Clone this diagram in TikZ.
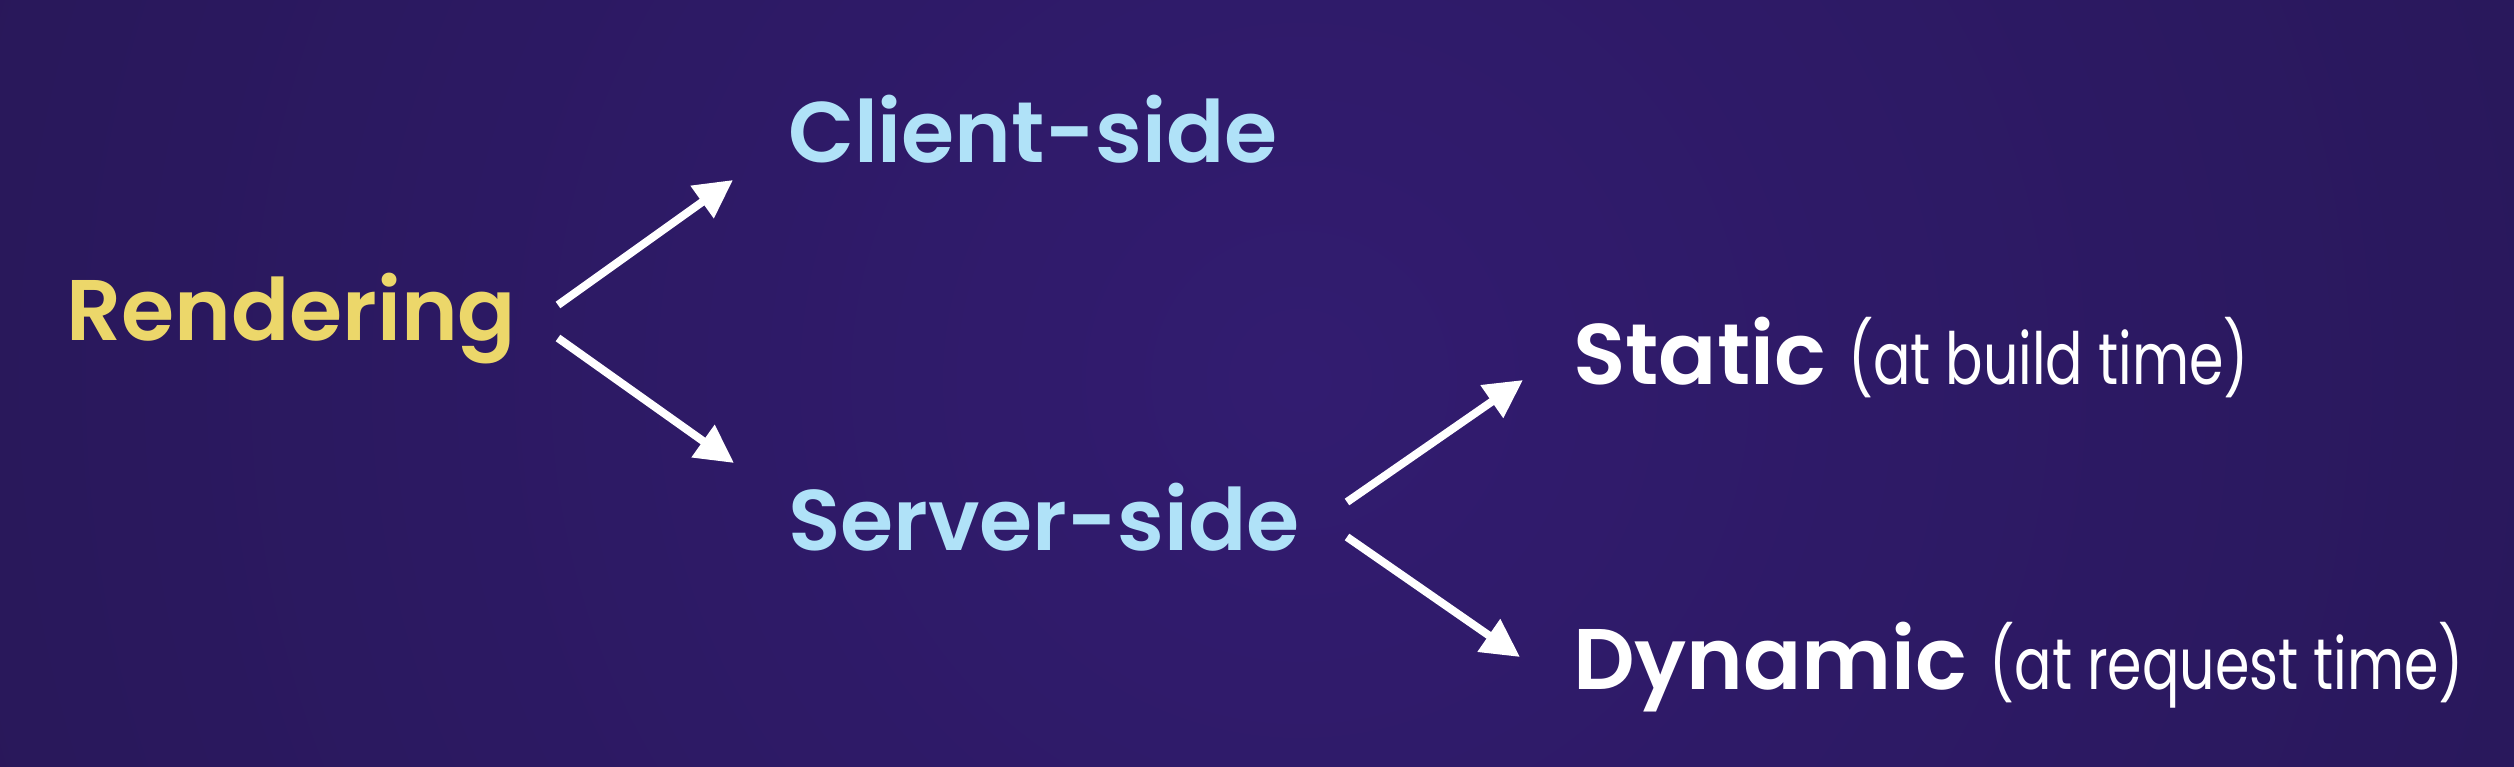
\documentclass[tikz,border=0pt]{standalone}
\usepackage{graphicx}
\usepackage{fontspec}
\setmainfont{Poppins}[BoldFont={Poppins SemiBold}]
\usetikzlibrary{arrows.meta}
\definecolor{bgin}{HTML}{321C70}
\definecolor{bgout}{HTML}{1D1240}
\definecolor{yel}{HTML}{ECD76A}
\definecolor{sky}{HTML}{B0E2F8}
\pgfdeclareradialshading{bgshade}{\pgfpoint{0bp}{0bp}}{color(0bp)=(bgin); color(50bp)=(bgout)}
\tikzset{
  lbl/.style={anchor=base west, inner sep=0pt, outer sep=0pt, font=\fontsize{86}{95}\selectfont\bfseries},
  note/.style={anchor=base west, inner sep=0pt, outer sep=0pt, text=white, font=\fontsize{72}{80}\selectfont\mdseries},
  arr/.style={draw=white, line width=8pt, -{Triangle[length=38pt,width=38pt]}}
}
\begin{document}
\begin{tikzpicture}[x=1pt,y=-1pt]
\useasboundingbox (0,0) rectangle (2514,766);
\begin{scope}
\clip (0,0) rectangle (2514,766);
\shade[shading=bgshade] (1300,380) circle (1500);
\end{scope}
\node[lbl, text=yel] (rend) at (66,340) {Rendering};
\node[lbl, text=sky] (client) at (788,162) {Client-side};
\node[lbl, text=sky] (server) at (788,550) {Server-side};
\node[lbl, text=white] (static) at (1573,384) {Static};
\node[lbl, text=white] (dynamic) at (1573,689) {Dynamic};
\node[note] (staticnote) at ([xshift=22pt]static.base east) {\scalebox{0.77}[1]{(at build time)}};
\node[note] (dynamicnote) at ([xshift=22pt]dynamic.base east) {\scalebox{0.77}[1]{(at request time)}};
\coordinate (r1) at (558,305);
\coordinate (c1) at (733,180);
\coordinate (r2) at (558,338);
\coordinate (s1) at (734,463);
\coordinate (v1) at (1347,502);
\coordinate (t1) at (1523,380);
\coordinate (v2) at (1347,537);
\coordinate (d1) at (1520,657);
\draw[arr] (r1) -- (c1);
\draw[arr] (r2) -- (s1);
\draw[arr] (v1) -- (t1);
\draw[arr] (v2) -- (d1);
\end{tikzpicture}
\end{document}
